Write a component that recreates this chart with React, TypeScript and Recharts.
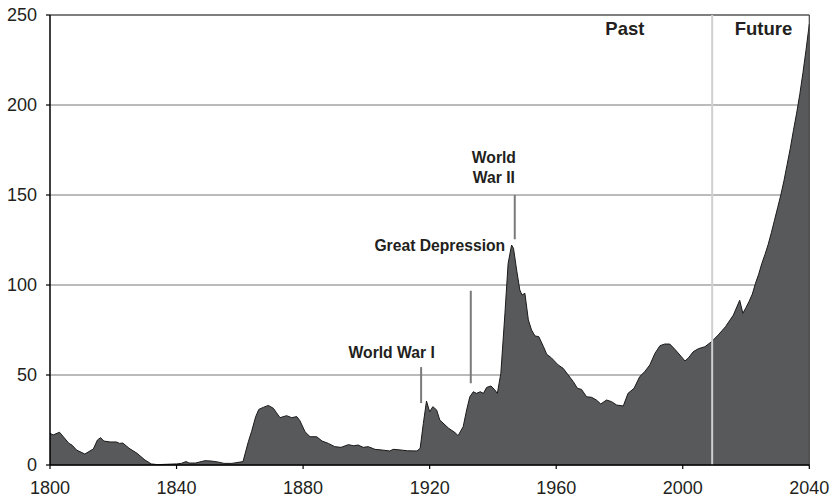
import React from 'react';
import { AreaChart, Area, XAxis, YAxis, CartesianGrid, ReferenceLine, ReferenceDot } from 'recharts';

const years = [
  1800, 1801, 1803, 1806, 1807, 1808.4, 1811, 1813.7, 1815, 1816, 1817, 1819, 1821, 1822, 1823, 1825, 1827.5, 1830, 1832, 1834,
  1837, 1840, 1841.5, 1843, 1844, 1846, 1849, 1851, 1853, 1855, 1857.5, 1861, 1862.7, 1863.7, 1865, 1866, 1867.4, 1869, 1870.6, 1871.6,
  1872.7, 1874.8, 1876.4, 1878, 1879, 1880.6, 1882.2, 1884.3, 1886, 1888, 1890, 1892, 1894.3, 1896, 1897.4, 1899, 1900.6, 1902.7, 1905, 1907.4,
  1908.5, 1911, 1913, 1916, 1917, 1918, 1919, 1920, 1921, 1922.2, 1923.2, 1926, 1928, 1929, 1930.6, 1931.7, 1932.7, 1933.8, 1934.8, 1936,
  1937, 1938, 1939.4, 1940.6, 1941.4, 1942.5, 1943.8, 1944.8, 1945.9, 1946.5, 1947.5, 1948.5, 1949.2, 1950.1, 1951.2, 1952.2, 1953.3, 1954.5, 1956, 1957,
  1958.5, 1960.6, 1962.2, 1963.8, 1965.4, 1966.7, 1968, 1969.6, 1971.2, 1972.7, 1974.1, 1975.9, 1977.5, 1979.1, 1981.2, 1982.7, 1984.6, 1986.4, 1988, 1989.6,
  1991.2, 1992.8, 1994.3, 1995.9, 1997.5, 1999.1, 2000.7, 2001.7, 2003.3, 2004.9, 2007, 2009.1, 2011.2, 2013.5, 2016, 2018, 2019, 2020, 2021, 2022,
  2023, 2024, 2025, 2026, 2027, 2028, 2029, 2030, 2031, 2032, 2033, 2034, 2035, 2036, 2037, 2038, 2039, 2040,
];

const values = [
  17.6, 16.7, 18.2, 12, 11, 8.3, 6.1, 8.9, 13.9, 15.2, 13.3, 12.8, 12.8, 12, 12.2, 9.3, 6.5, 2.8, 0.6, 0.2,
  0.4, 0.6, 0.9, 1.9, 1.1, 1.1, 2.4, 2.2, 1.7, 0.9, 0.9, 1.9, 13, 18.5, 26.8, 30.9, 32, 33.1, 31.5, 29,
  26.3, 27.4, 26.3, 26.9, 24.6, 18.5, 15.7, 15.7, 13.3, 12, 10.2, 9.8, 11.3, 10.7, 11.1, 9.8, 10.2, 8.7, 8.3, 7.8,
  8.7, 8.3, 7.9, 7.8, 9.3, 23, 35.5, 29.6, 32.4, 30.6, 25, 20.4, 18, 16.3, 21.3, 30.6, 37.9, 40.7, 39.8, 40.7,
  39.8, 43.1, 43.9, 41.7, 39.8, 50.9, 84.3, 112, 122.2, 120.4, 108.3, 97.2, 94.4, 95.4, 80.6, 75, 71.7, 71.3, 65.7, 61.5,
  59.5, 55.6, 53.7, 50, 46.3, 42.6, 42, 37.9, 37.6, 36.1, 33.9, 36.1, 35.2, 33.3, 32.8, 39.8, 42.6, 49.1, 51.9, 55.6,
  62, 66.3, 67.2, 67.2, 64.3, 61.1, 57.8, 59.3, 62.9, 64.6, 65.7, 68.5, 72.2, 76.8, 83.3, 91.5, 84.3, 87.5, 91, 95,
  101, 106, 112, 117, 122.5, 129, 136, 143, 150, 158, 167, 176, 186, 195.5, 206, 218, 231, 245,
];

const xTicks = [1800, 1840, 1880, 1920, 1960, 2000, 2040];
const yTicks = [0, 50, 100, 150, 200, 250];

const eventYears = [1917.3, 1933, 1946.9];
const eventTops = [54.4, 96.8, 150];
const eventBottoms = [34.4, 45.4, 125.4];

const labelTexts = ['World War I', 'Great Depression', 'World', 'War II', 'Past', 'Future'];
const labelYears = [1908, 1923.2, 1940.3, 1940.3, 1981.7, 2025.5];
const labelValues = [62.5, 122.2, 170.8, 159.7, 242.8, 242.8];
const labelSizes = [15.7, 15.7, 15.7, 15.7, 18.5, 18.5];

const presentYear = 2009.3;

const data = years.map((y, i) => ({ year: y, value: values[i] }));

const FONT = '"Liberation Sans", Arial, sans-serif';
const TEXT = '#231f20';

export default function App() {
  return (
    <div style={{ position: 'absolute', left: 0, top: 0, width: 831, height: 498 }}>
      <AreaChart width={831} height={498} data={data} margin={{ top: 15, right: 21.7, left: 8, bottom: 0 }}>
        <CartesianGrid vertical={false} stroke="#777" strokeWidth={1} />
        <XAxis
          dataKey="year"
          type="number"
          domain={[1800, 2040]}
          ticks={xTicks}
          height={33}
          tickSize={4}
          tickMargin={12.5}
          axisLine={{ stroke: '#000', strokeWidth: 1.5 }}
          tickLine={{ stroke: '#000', strokeWidth: 1.2 }}
          tick={{ fill: TEXT, fontSize: 18, fontFamily: FONT }}
          interval={0}
        />
        <YAxis
          type="number"
          domain={[0, 250]}
          ticks={yTicks}
          width={42}
          tickSize={4}
          tickMargin={9}
          axisLine={{ stroke: '#000', strokeWidth: 1.5 }}
          tickLine={{ stroke: '#000', strokeWidth: 1.2 }}
          tick={{ fill: TEXT, fontSize: 18, fontFamily: FONT }}
          interval={0}
        />
        <Area
          type="linear"
          dataKey="value"
          stroke="#1a1a1a"
          strokeWidth={1}
          fill="#58595b"
          fillOpacity={1}
          isAnimationActive={false}
          dot={false}
          activeDot={false}
        />
        <ReferenceLine y={250} stroke="#444" strokeWidth={1.2} />
        <ReferenceLine x={2040} stroke="#444" strokeWidth={1.2} />
        <ReferenceLine x={presentYear} stroke="#cfcfcf" strokeWidth={2} />
        {eventYears.map((yr, i) => (
          <ReferenceLine
            key={'ev' + i}
            segment={[{ x: yr, y: eventBottoms[i] }, { x: yr, y: eventTops[i] }]}
            stroke="#7a7a7a"
            strokeWidth={2}
          />
        ))}
        {labelTexts.map((t, i) => (
          <ReferenceDot
            key={'lb' + i}
            x={labelYears[i]}
            y={labelValues[i]}
            r={0}
            fill="none"
            stroke="none"
            label={{
              value: t,
              position: 'center',
              fill: TEXT,
              fontSize: labelSizes[i],
              fontWeight: 'bold',
              fontFamily: FONT,
            }}
          />
        ))}
      </AreaChart>
    </div>
  );
}
